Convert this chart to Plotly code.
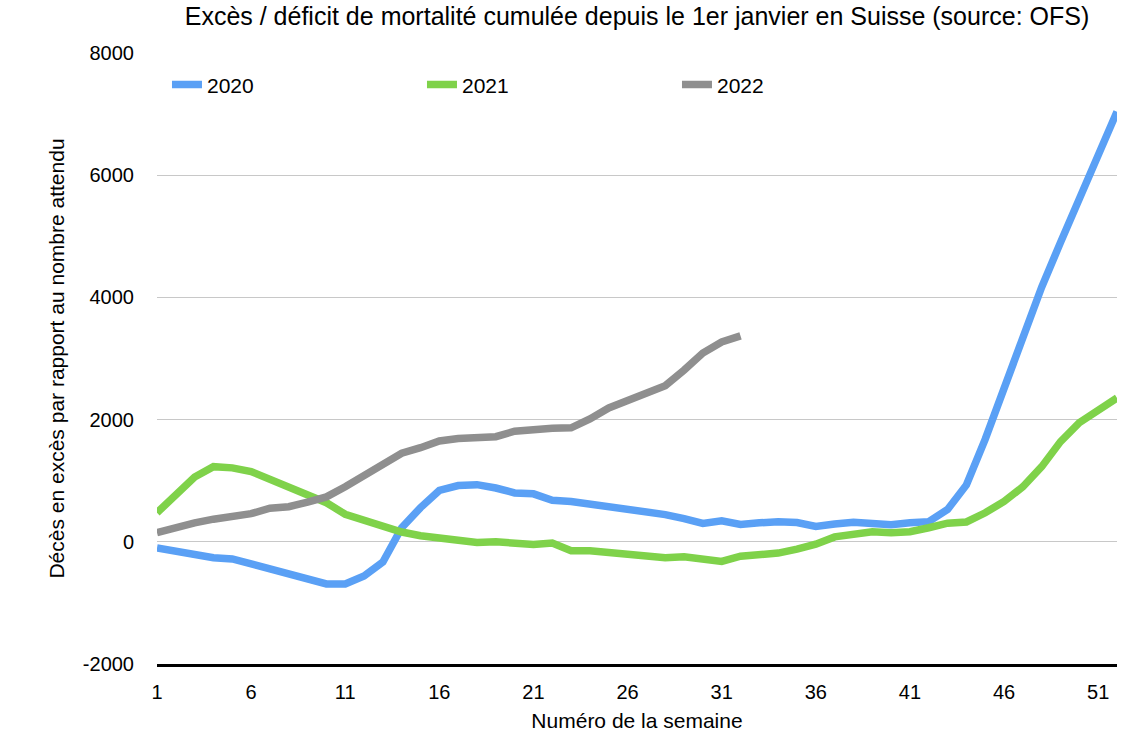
import plotly.graph_objects as go

weeks = list(range(1, 53))

y2020 = [-100, -160, -220, -260, -280, -360, -430, -520, -620, -690,
         -690, -560, -330, 230, 560, 840, 920, 935, 880, 800,
         785, 680, 660, 620, 560, 530, 490, 445, 380, 300,
         345, 285, 310, 330, 315, 250, 290, 320, 300, 280,
         310, 330, 530, 930, 1680, 2500, 3340, 4170, 4900, 5620,
         6300, 7040]

y2021 = [475, 760, 1060, 1230, 1210, 1150, 1030, 900, 770, 640,
         450, 350, 240, 160, 100, 60, 50, -10, 0, -20,
         -45, -20, -145, -145, -180, -200, -240, -260, -245, -275,
         -320, -235, -215, -185, -120, -40, 80, 115, 165, 150,
         165, 230, 305, 325, 475, 660, 900, 1230, 1640, 1950,
         2150, 2355]

y2022 = [150, 245, 310, 370, 420, 460, 550, 575, 650, 735,
         900, 1080, 1290, 1450, 1540, 1650, 1690, 1720, 1720, 1810,
         1845, 1860, 1865, 2010, 2190, 2305, 2435, 2555, 2810, 3090,
         3270, 3370]

x_tickvals = list(range(1, 53, 5))
y_tickvals = [-2000, 0, 2000, 4000, 6000, 8000]
y_ticktext = ["-2000", "0", "2000", "4000", "6000", "8000"]

series = [("2020", y2020, "#5AA0F5"), ("2021", y2021, "#7FD24A"), ("2022", y2022, "#8F8F8F")]

fig = go.Figure()
for name, vals, color in series:
    fig.add_trace(go.Scatter(x=weeks[:len(vals)], y=vals, name=name, mode="lines",
                             line=dict(color=color, width=7.5)))

font_family = "Liberation Sans, Arial, Helvetica, sans-serif"

fig.update_layout(
    width=1122, height=735,
    margin=dict(l=157, r=5, t=53, b=71),
    paper_bgcolor="white", plot_bgcolor="white",
    font=dict(family=font_family, size=20, color="black"),
    title=dict(text="Excès / déficit de mortalité cumulée depuis le 1er janvier en Suisse (source: OFS)",
               x=0.5, xref="paper", xanchor="center", y=0.978, yref="container", yanchor="middle",
               font=dict(size=25, color="black")),
    showlegend=True,
    legend=dict(orientation="h", x=0.0104, xanchor="left", y=0.948, yanchor="middle",
                entrywidthmode="pixels", entrywidth=210,
                font=dict(size=21), bgcolor="rgba(0,0,0,0)"),
    xaxis=dict(range=[1, 52], tickmode="array", tickvals=x_tickvals,
               ticks="", showgrid=False, zeroline=False,
               showline=True, linecolor="black", linewidth=2.5, ticklabelstandoff=8,
               tickfont=dict(size=20),
               title=dict(text="Numéro de la semaine", standoff=12, font=dict(size=21))),
    yaxis=dict(range=[-2000, 8000], tickmode="array", tickvals=y_tickvals, ticktext=y_ticktext,
               ticks="", showgrid=True, gridcolor="#C8C8C8", gridwidth=1,
               zeroline=True, zerolinecolor="#C8C8C8", zerolinewidth=1,
               showline=False, ticklabelstandoff=22, tickfont=dict(size=20),
               title=dict(text="Décès en excès par rapport au nombre attendu", standoff=12, font=dict(size=21))),
)

fig.write_html("out.html", config={"displayModeBar": False},
               post_script="document.body.style.margin='0px';")
